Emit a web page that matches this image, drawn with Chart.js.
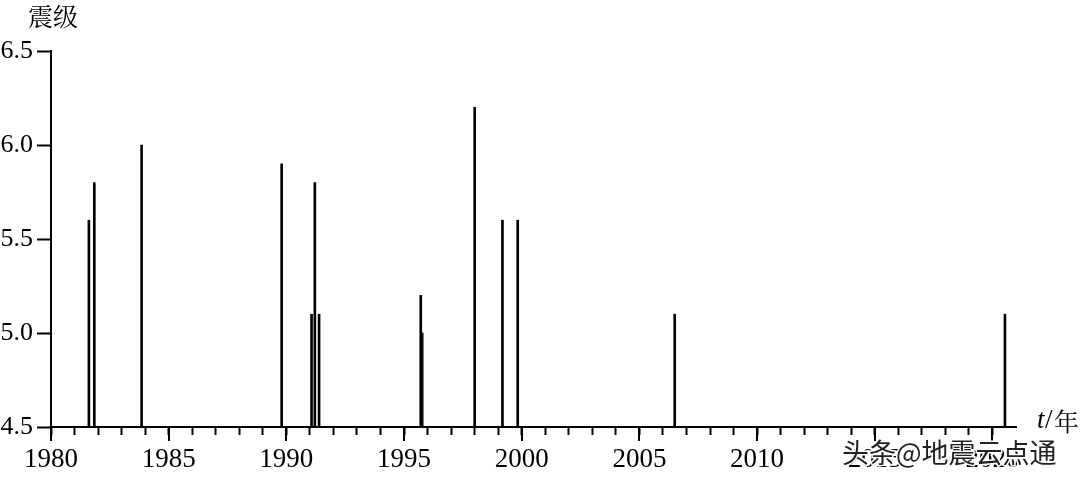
<!DOCTYPE html>
<html>
<head>
<meta charset="utf-8">
<script src="https://cdn.jsdelivr.net/npm/chart.js@4"></script>
<style>
  html, body { margin: 0; padding: 0; background: #fff; }
  #wrap { width: 1080px; height: 479px; }
</style>
</head>
<body>
<div id="wrap"><canvas id="quakeChart" width="1080" height="479"></canvas></div>
<script>
// event times (decimal years) and magnitudes
const years = [1981.61, 1981.84, 1983.85, 1989.8, 1991.07, 1991.21, 1991.39, 1995.71, 1995.77, 1998.0, 1999.18, 1999.83, 2006.5, 2020.53];
const mags = [5.6, 5.8, 6.0, 5.9, 5.1, 5.8, 5.1, 5.2, 5.0, 6.2, 5.6, 5.6, 5.1, 5.1];
const yTicks = [4.5, 5.0, 5.5, 6.0, 6.5];
const xRange = [1980, 2021];
const majorYears = [1980, 1985, 1990, 1995, 2000, 2005, 2010, 2015, 2020];

const serif = '"Liberation Serif", "DejaVu Serif", serif';
const cjkSerif = '"Noto Serif CJK SC", "Noto Sans CJK SC"';

// longer ticks at the labelled years plus the axis captions
const extras = {
  id: 'extras',
  afterDraw(chart) {
    const ctx = chart.ctx;
    const x = chart.scales.x;
    const bottom = chart.chartArea.bottom;
    ctx.save();
    ctx.strokeStyle = '#000';
    ctx.lineWidth = 2;
    majorYears.forEach(yr => {
      const px = Math.round(x.getPixelForValue(yr));
      ctx.beginPath();
      ctx.moveTo(px, bottom);
      ctx.lineTo(px, bottom + 14);
      ctx.stroke();
    });

    ctx.fillStyle = '#000';
    ctx.textBaseline = 'middle';
    ctx.font = '25px ' + cjkSerif;
    ctx.fillText('震级', 28, 16);

    ctx.font = 'italic 27px ' + serif;
    ctx.fillText('t', 1037, 421);
    ctx.font = '27px ' + serif;
    ctx.fillText('/', 1045, 421);
    ctx.font = '25px ' + cjkSerif;
    ctx.fillText('年', 1054, 421);

    // watermark
    ctx.font = '27px "Noto Sans CJK SC"';
    ctx.lineWidth = 3;
    ctx.strokeStyle = '#fff';
    ctx.strokeText('头条@地震云点通', 842, 453);
    ctx.fillStyle = '#222';
    ctx.fillText('头条@地震云点通', 842, 453);
    ctx.restore();
  }
};

function draw() {
  new Chart('quakeChart', {
    type: 'bar',
    data: {
      datasets: [{
        data: years.map((t, i) => ({ x: t, y: mags[i] })),
        base: 4.5,
        backgroundColor: '#000',
        borderWidth: 0,
        barThickness: 2,
        grouped: false
      }]
    },
    options: {
      responsive: false,
      animation: false,
      layout: { padding: { top: 51, right: 64, left: 0, bottom: 0 } },
      plugins: {
        legend: { display: false },
        tooltip: { enabled: false }
      },
      scales: {
        x: {
          type: 'linear',
          offset: false,
          min: xRange[0],
          max: xRange[1],
          afterFit: scale => { scale.height = 52; },
          border: { display: true, color: '#000', width: 2 },
          grid: {
            offset: false,
            drawOnChartArea: false,
            tickLength: 8,
            tickWidth: 2,
            tickColor: c => (c.tick && c.tick.value > 2020 ? 'rgba(0,0,0,0)' : '#000')
          },
          ticks: {
            stepSize: 1,
            autoSkip: false,
            maxRotation: 0,
            padding: 9,
            color: '#000',
            font: { family: serif, size: 27 },
            callback: v => (v % 5 === 0 && v <= 2020 ? String(v) : '')
          }
        },
        y: {
          min: yTicks[0],
          max: yTicks[yTicks.length - 1],
          afterFit: scale => { scale.width = 51; },
          afterBuildTicks: scale => { scale.ticks = yTicks.map(v => ({ value: v })); },
          border: { display: true, color: '#000', width: 2 },
          grid: { drawOnChartArea: false, tickLength: 14, tickWidth: 2, tickColor: '#000' },
          ticks: {
            padding: 4,
            color: '#000',
            font: { family: serif, size: 26 },
            callback: v => Number(v).toFixed(1)
          }
        }
      }
    },
    plugins: [extras]
  });
}

Promise.all([
  document.fonts.load('26px "Liberation Serif"'),
  document.fonts.load('italic 26px "Liberation Serif"'),
  document.fonts.load('24px "Noto Serif CJK SC"'),
  document.fonts.load('24px "Noto Sans CJK SC"')
]).then(draw, draw);
</script>
</body>
</html>
